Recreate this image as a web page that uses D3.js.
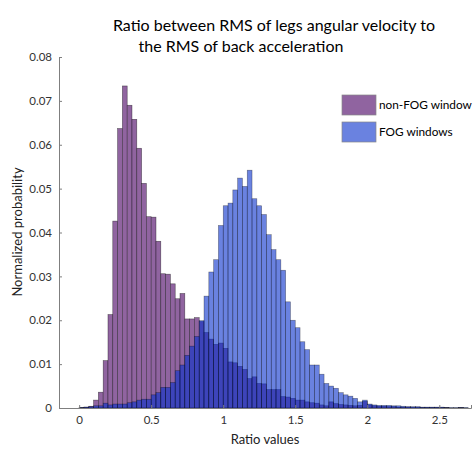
<!DOCTYPE html>
<meta charset="utf-8">
<style>
body{margin:0;background:#fff;}
text{font-family:Lato, "Open Sans", sans-serif;}
.tick text{font-size:11.5px;fill:#333;}
.tick line, .domain{stroke:#7f7f7f;}
.title{font-size:16px;fill:#000;}
.lab{font-size:13px;fill:#222;}
.leg{font-size:11.8px;fill:#000;}
</style>
<body>
<script src="https://d3js.org/d3.v7.min.js"></script>
<script>
// bin width 1/30, bins start at 0
var binWidth = 1/30;

var nonFog = [0.0001,0.0002,0.0004,0.0018,0.0036,0.0108,0.0213,0.0426,0.0637,0.0734,
  0.0690,0.0658,0.0592,0.0512,0.0436,0.0435,0.0380,0.0306,0.0305,0.0283,
  0.0249,0.0261,0.0203,0.0203,0.0206,0.0197,0.0172,0.0157,0.0145,0.0148,
  0.0136,0.0105,0.0103,0.0095,0.0088,0.0067,0.0071,0.0056,0.0055,0.0042,
  0.0042,0.0042,0.0026,0.0025,0.0022,0.0018,0.0018,0.0014,0.0012,0.0011,
  0.0007,0.0005,0.0014,0.0010,0.0008,0.0007,0.0006,0.0005,0.0006,0.0015,
  0.0007,0.0005,0.0004,0.0004,0.0003,0.0003,0.0002,0.0002,0.0002,0.0001,
  0.0001,0.0001,0.0001,0.0001,0.0001,0.0001,0.0001,0,0,0.0001];

var fog = [0.0001,0.0002,0.0003,0.0005,0.0005,0.0011,0.0007,0.0009,0.0009,0.0009,
  0.0012,0.0014,0.0018,0.0020,0.0020,0.0030,0.0035,0.0047,0.0047,0.0058,
  0.0085,0.0098,0.0120,0.0141,0.0163,0.0199,0.0255,0.0310,0.0338,0.0416,
  0.0461,0.0467,0.0497,0.0524,0.0505,0.0542,0.0477,0.0461,0.0441,0.0395,
  0.0361,0.0338,0.0314,0.0242,0.0200,0.0183,0.0151,0.0133,0.0098,0.0098,
  0.0077,0.0056,0.0050,0.0045,0.0035,0.0030,0.0027,0.0022,0.0014,0.0018,
  0.0009,0.0007,0.0006,0.0006,0.0006,0.0005,0.0005,0.0004,0.0003,0.0003,
  0.0003,0.0002,0.0002,0.0002,0.0002,0.0002,0.0001,0.0001,0.0001,0.0001,0.0001];

var xTicks = [0,0.5,1,1.5,2,2.5];
var yTicks = [0,0.01,0.02,0.03,0.04,0.05,0.06,0.07,0.08];
var seriesNames = ["non-FOG window","FOG windows"];

var svg = d3.select("body").append("svg").attr("width",473).attr("height",449);

var x = d3.scaleLinear().domain([-0.14,2.72]).range([59,471]);
var y = d3.scaleLinear().domain([0,0.08]).range([408,57]);

function bars(vals, cls){
  return svg.append("g").attr("class",cls).selectAll("rect")
    .data(vals).join("rect")
    .attr("x",(d,i)=>x(i*binWidth))
    .attr("width",(d,i)=>x((i+1)*binWidth)-x(i*binWidth))
    .attr("y",d=>y(d))
    .attr("height",d=>y(0)-y(d));
}

bars(nonFog,"nf").attr("fill","rgb(144,100,160)")
  .attr("stroke","#000").attr("stroke-opacity",0.55).attr("stroke-width",0.6);
bars(fog,"f").attr("fill","rgb(7,47,203)").attr("fill-opacity",0.6)
  .attr("stroke","#000").attr("stroke-opacity",0.45).attr("stroke-width",0.6);

svg.append("g").attr("transform","translate(0,408)")
  .call(d3.axisBottom(x).tickValues(xTicks).tickSize(-3).tickPadding(8).tickFormat(d3.format("")));
svg.append("g").attr("transform","translate(59,0)")
  .call(d3.axisLeft(y).tickValues(yTicks).tickSize(-3).tickPadding(7).tickFormat(d3.format("")));

svg.append("text").attr("class","title").attr("x",274).attr("y",31).attr("text-anchor","middle")
  .text("Ratio between RMS of legs angular velocity to");
svg.append("text").attr("class","title").attr("x",241).attr("y",52).attr("text-anchor","middle")
  .text("the RMS of back acceleration");

svg.append("text").attr("class","lab").attr("x",265).attr("y",444).attr("text-anchor","middle")
  .text("Ratio values");
svg.append("text").attr("class","lab").attr("transform","translate(22,232) rotate(-90)")
  .attr("text-anchor","middle").text("Normalized probability");

var legColors = ["rgb(144,100,160)","rgb(106,130,224)"];
var leg = svg.append("g").selectAll("g").data(seriesNames).join("g")
  .attr("transform",(d,i)=>"translate(342,"+(95+i*27)+")");
leg.append("rect").attr("width",34).attr("height",20)
  .attr("fill",(d,i)=>legColors[i]).attr("stroke","#888").attr("stroke-width",0.7);
leg.append("text").attr("class","leg").attr("x",37).attr("y",14).text(d=>d);
</script>
</body>
</html>
